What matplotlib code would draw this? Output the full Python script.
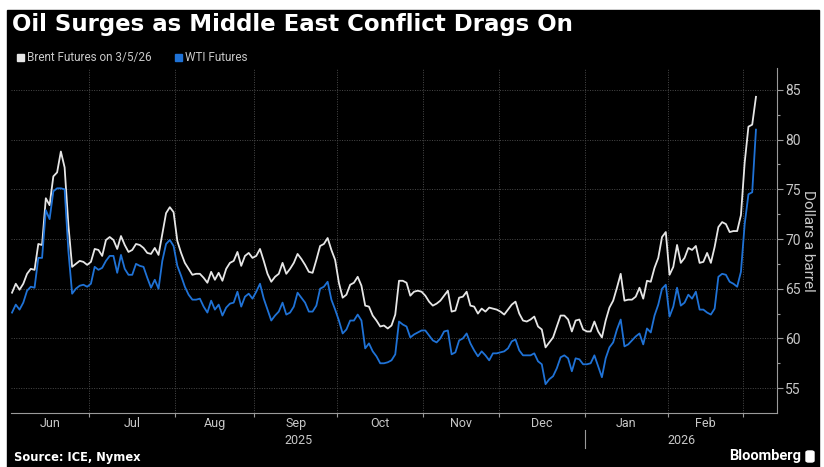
import matplotlib
matplotlib.use("Agg")
import matplotlib.pyplot as plt
from matplotlib.patches import Rectangle, FancyBboxPatch
import numpy as np
import pandas as pd

# Daily settlement values (one per business day)
brent_jun = [64.6, 65.5, 64.9, 65.5, 66.5, 67.0, 66.9, 69.5, 69.4, 74.1, 73.4,
             76.3, 76.7, 78.8, 77.2, 71.4, 67.2, 67.5, 67.8, 67.7, 67.4]
brent_jul = [67.7, 69.0, 68.9, 68.3, 69.9, 70.2, 69.9, 69.0, 70.3, 69.4, 68.7, 68.9,
             69.5, 69.4, 69.1, 68.6, 68.5, 69.1, 68.4, 70.5, 72.6, 73.2, 72.7]
brent_aug = [69.8, 68.6, 67.6, 67.0, 66.4, 66.5, 66.5, 66.1, 65.6, 66.7, 65.9,
             66.6, 65.8, 67.0, 67.6, 67.8, 68.7, 67.3, 68.3, 68.6, 68.1]
brent_sep = [68.3, 69.0, 67.8, 66.5, 65.7, 66.2, 66.5, 67.6, 66.5, 67.0, 67.6,
             68.5, 68.0, 67.4, 66.7, 66.6, 67.9, 69.3, 69.5, 70.1, 68.9, 67.9]
brent_oct = [65.6, 64.1, 64.4, 65.4, 65.6, 66.2, 65.3, 63.3, 63.2, 62.3, 61.8, 61.2,
             61.3, 61.0, 61.3, 62.4, 65.8, 65.8, 65.6, 64.3, 64.7, 64.8, 64.7]
brent_nov = [64.3, 63.7, 63.3, 63.5, 63.8, 64.3, 64.8, 62.7, 62.8, 64.1,
             64.2, 64.7, 63.3, 63.2, 62.5, 63.0, 62.7, 63.1, 63.0, 62.9]
brent_dec = [62.7, 62.4, 62.9, 63.4, 63.7, 62.5, 61.8, 61.7, 61.9, 62.2, 61.2, 60.9,
             59.1, 59.6, 60.1, 61.2, 62.3, 62.3, 61.9, 60.7, 61.8, 61.9, 60.9]
brent_jan = [60.7, 60.7, 61.7, 60.7, 60.1, 61.8, 63.1, 63.8, 65.1, 66.5, 63.8,
             63.9, 63.9, 64.2, 65.1, 64.0, 65.8, 65.7, 67.1, 68.1, 70.2, 70.7]
brent_feb = [66.4, 67.2, 69.4, 67.6, 68.1, 69.1, 68.9, 69.3, 67.6, 67.7,
             68.6, 67.6, 69.2, 71.2, 71.7, 71.5, 70.7, 70.8, 70.8, 72.4]
brent_mar = [77.7, 81.3, 81.5, 84.3]

wti_jun = [62.6, 63.4, 62.9, 63.6, 64.8, 65.2, 65.1, 68.1, 68.1, 72.9, 72.0,
           74.8, 75.1, 75.1, 75.0, 68.8, 64.5, 65.0, 65.3, 65.4, 65.2]
wti_jul = [65.5, 67.2, 66.9, 67.1, 67.8, 68.3, 68.3, 66.6, 68.4, 67.0, 66.4, 66.4,
           67.5, 67.3, 67.2, 66.1, 65.1, 65.9, 65.0, 67.8, 69.5, 69.9, 69.3]
wti_aug = [67.3, 66.3, 65.2, 64.4, 63.9, 63.9, 64.0, 63.2, 62.6, 63.8, 62.9,
           63.4, 62.3, 63.1, 63.5, 63.6, 64.7, 63.2, 64.2, 64.5, 64.0]
wti_sep = [64.7, 65.5, 64.0, 62.9, 61.8, 62.3, 62.7, 63.6, 62.4, 62.6, 63.2,
           64.6, 64.1, 63.6, 62.7, 62.7, 63.3, 65.0, 65.2, 65.7, 63.9, 62.9]
wti_oct = [61.8, 60.5, 60.9, 61.8, 61.8, 62.4, 61.8, 59.0, 59.5, 58.7, 58.2, 57.5,
           57.5, 57.6, 57.8, 58.4, 61.7, 61.4, 61.2, 60.1, 60.4, 60.6, 60.8]
wti_nov = [60.8, 60.3, 59.8, 59.6, 60.0, 60.7, 60.8, 58.4, 58.6, 59.8,
           60.0, 60.5, 59.5, 58.8, 58.2, 58.7, 58.3, 57.8, 58.5, 58.5]
wti_dec = [58.6, 58.7, 59.0, 59.7, 59.9, 58.8, 58.3, 58.3, 58.3, 58.5, 57.7, 57.4,
           55.4, 55.9, 56.2, 57.0, 58.1, 58.3, 58.0, 56.7, 58.0, 57.9, 57.4]
wti_jan = [57.4, 57.5, 58.3, 57.2, 56.1, 58.0, 59.1, 59.6, 60.9, 61.9, 59.2,
           59.4, 59.8, 60.2, 60.5, 59.4, 61.0, 60.6, 62.3, 63.4, 65.0, 65.4]
wti_feb = [62.2, 63.2, 65.1, 63.3, 63.6, 64.4, 64.0, 64.7, 62.9, 62.9,
           62.6, 62.4, 63.0, 66.2, 66.5, 66.4, 65.7, 65.5, 65.2, 66.7]
wti_mar = [71.5, 74.5, 74.7, 81.0]

dates = pd.bdate_range("2025-06-02", "2026-03-05")
brent = (brent_jun + brent_jul + brent_aug + brent_sep + brent_oct + brent_nov
         + brent_dec + brent_jan + brent_feb + brent_mar)
wti = (wti_jun + wti_jul + wti_aug + wti_sep + wti_oct + wti_nov
       + wti_dec + wti_jan + wti_feb + wti_mar)

y_ticks = [55, 60, 65, 70, 75, 80, 85]
y_minor = [57.5, 62.5, 67.5, 72.5, 77.5, 82.5]

W, H = 824, 467
brent_color = "#e6e6e6"
wti_color = "#1f72d6"
text_gray = "#c8c8c8"
axis_gray = "#9a9a9a"
grid_color = "#4a4a4a"
axis_font = ["Roboto", "DejaVu Sans"]

# trading-day axis (one slot per business day, as Bloomberg draws it)
x = np.arange(len(dates))
months = dates.to_period("M")
month_start = [i for i in range(len(dates)) if i == 0 or months[i] != months[i - 1]]
bounds = [i - 0.5 for i in month_start[1:]]
x_left, x_right = -0.27, len(dates) - 1 + 5.6

fig = plt.figure(figsize=(W / 100, H / 100), dpi=100)
fig.patch.set_facecolor("white")
fig.patches.append(Rectangle((7 / W, 0), (819 - 7) / W, (H - 10) / H,
                             transform=fig.transFigure, color="black", zorder=-10))

ax = fig.add_axes([11 / W, 1 - 413 / H, (777 - 11) / W, (413 - 68) / H])
ax.set_facecolor("black")

ax.plot(x, brent, color=brent_color, lw=1.3, zorder=3)
ax.plot(x, wti, color=wti_color, lw=1.3, zorder=4)

ax.set_xlim(x_left, x_right)
ax.set_ylim(52.5, 87.2)

# y axis on the right
ax.yaxis.tick_right()
ax.yaxis.set_label_position("right")
ax.set_yticks(y_ticks)
ax.set_yticks(y_minor, minor=True)
ax.tick_params(axis="y", which="major", length=4, width=0.8, color=axis_gray,
               labelcolor=text_gray, labelsize=10, pad=2)
ax.tick_params(axis="y", which="minor", length=2, width=0.8, color=axis_gray)
for lab in ax.get_yticklabels():
    lab.set_family(axis_font)
ax.set_ylabel("Dollars a barrel", rotation=270, color=text_gray, fontsize=11,
              labelpad=10, family=axis_font)

# x axis: month boundaries as ticks, names centred in each month
edges = [x_left] + bounds + [x_right]
centres = [(edges[k] + min(edges[k + 1], len(dates) - 1)) / 2
           for k in range(len(edges) - 2)]
ax.set_xticks(bounds)
ax.set_xticklabels([])
ax.set_xticks(centres, minor=True)
ax.set_xticklabels([d.strftime("%b") for d in dates[month_start[:-1]]], minor=True)
ax.tick_params(axis="x", which="major", length=3, width=0.8, color=axis_gray)
ax.tick_params(axis="x", which="minor", length=0, labelcolor=text_gray,
               labelsize=9, pad=3)
for lab in ax.get_xticklabels(minor=True):
    lab.set_family(axis_font)

ax.grid(True, which="major", color=grid_color, linestyle=(0, (1, 1.5)), lw=0.7)
for side in ["top", "left"]:
    ax.spines[side].set_visible(False)
ax.spines["bottom"].set_color(axis_gray)
ax.spines["right"].set_color(axis_gray)

# years
jan_bound = bounds[6]
trans = ax.get_xaxis_transform()
ax.text((x_left + jan_bound) / 2, -0.08, "2025", transform=trans, ha="center",
        va="center", color=text_gray, fontsize=9, family=axis_font)
ax.text((jan_bound + x_right) / 2, -0.08, "2026", transform=trans, ha="center",
        va="center", color=text_gray, fontsize=9, family=axis_font)
ax.plot([jan_bound, jan_bound], [-0.05, -0.1], transform=trans,
        color=axis_gray, lw=0.8, clip_on=False)

# title, legend, footer
fig.text(12 / W, 1 - 25 / H, "Oil Surges as Middle East Conflict Drags On",
         color="white", fontsize=16.5, fontweight="bold", va="center")
fig.patches.append(Rectangle((17 / W, 1 - 61 / H), 7 / W, 7 / H,
                             transform=fig.transFigure, color=brent_color))
fig.text(27 / W, 1 - 57.5 / H, "Brent Futures on 3/5/26", color=text_gray,
         fontsize=8.5, va="center", family=axis_font)
fig.patches.append(Rectangle((175 / W, 1 - 61 / H), 7 / W, 7 / H,
                             transform=fig.transFigure, color=wti_color))
fig.text(185 / W, 1 - 57.5 / H, "WTI Futures", color=text_gray,
         fontsize=8.5, va="center", family=axis_font)

fig.text(14 / W, 1 - 458 / H, "Source: ICE, Nymex", color="white",
         fontsize=8.3, fontweight="bold", va="center")
fig.text(801 / W, 1 - 456 / H, "Bloomberg", color="white", fontsize=10.5,
         fontweight="bold", va="center", ha="right", family=axis_font)
fig.patches.append(FancyBboxPatch((806 / W, 1 - 462 / H), 8 / W, 11 / H,
                                  boxstyle="round,pad=0,rounding_size=0.003",
                                  transform=fig.transFigure, color="white"))

fig.savefig("out.png", dpi=100, facecolor=fig.get_facecolor())
